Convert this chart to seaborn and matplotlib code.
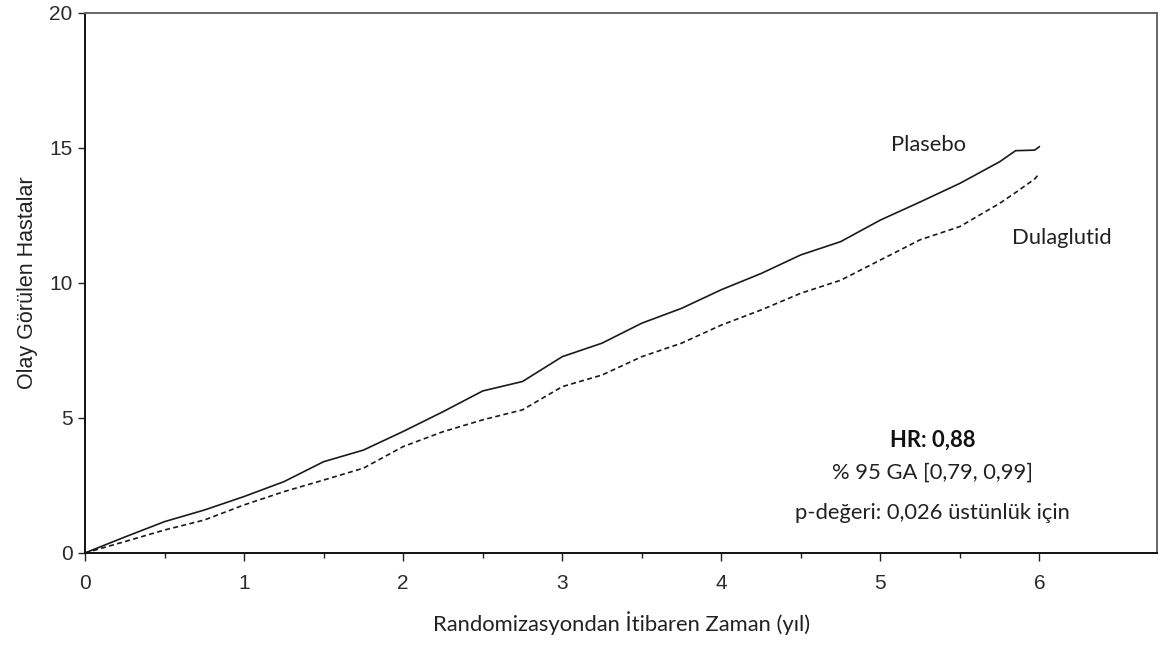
import numpy as np
import pandas as pd
import matplotlib
matplotlib.use("Agg")
import matplotlib.pyplot as plt
import matplotlib.ticker as ticker
import seaborn as sns

# values (cumulative % of patients with event)
years = [0, 0.25, 0.5, 0.75, 1.0, 1.25, 1.5, 1.75, 2.0, 2.25, 2.5, 2.75, 3.0,
         3.25, 3.5, 3.75, 4.0, 4.25, 4.5, 4.75, 5.0, 5.25, 5.5, 5.75, 5.85, 5.97, 6.0]
plasebo = [0, 0.59, 1.16, 1.59, 2.09, 2.64, 3.38, 3.81, 4.5, 5.23, 6.0, 6.35, 7.27,
           7.77, 8.51, 9.06, 9.75, 10.35, 11.04, 11.53, 12.33, 13.0, 13.69, 14.49,
           14.9, 14.92, 15.05]
dulaglutid = [0, 0.42, 0.85, 1.22, 1.78, 2.27, 2.7, 3.14, 3.94, 4.49, 4.93, 5.3, 6.16,
              6.59, 7.27, 7.77, 8.44, 9.0, 9.62, 10.1, 10.85, 11.6, 12.09, 12.95,
              13.35, 13.85, 14.06]

x_ticks = [0, 1, 2, 3, 4, 5, 6]
y_ticks = [0, 5, 10, 15, 20]

df = pd.DataFrame({
    "yil": years * 2,
    "oran": plasebo + dulaglutid,
    "grup": ["Plasebo"] * len(years) + ["Dulaglutid"] * len(years),
})

sns.set_style("white")
text_font = ["Lato", "DejaVu Sans"]
tick_font = ["Liberation Sans", "DejaVu Sans"]
plt.rcParams["font.family"] = tick_font
fs = 15.8

fig = plt.figure(figsize=(11.73, 6.49), dpi=100)
ax = fig.add_axes([0.0725, 0.148, 0.914, 0.832])

sns.lineplot(data=df, x="yil", y="oran", style="grup", color="#1a1a1a",
             dashes={"Plasebo": "", "Dulaglutid": (3, 2)}, linewidth=1.2,
             legend=False, ax=ax)

ax.set_xlim(0, 6.74)
ax.set_ylim(0, 20)
ax.xaxis.set_major_locator(ticker.FixedLocator(x_ticks))
ax.xaxis.set_minor_locator(ticker.FixedLocator([0.5, 1.5, 2.5, 3.5, 4.5, 5.5]))
ax.yaxis.set_major_locator(ticker.FixedLocator(y_ticks))
ax.tick_params(axis="x", which="major", direction="out", length=6, width=1,
               color="#222", pad=9, bottom=True, labelsize=15,
               labelcolor="#2b2b2b")
ax.tick_params(axis="x", which="minor", direction="out", length=3.5, width=1,
               color="#222", bottom=True)
ax.tick_params(axis="y", direction="out", length=5, width=1, color="#222",
               pad=4, left=True, labelsize=15, labelcolor="#2b2b2b")

for side in ["left", "bottom"]:
    ax.spines[side].set_color("#111")
    ax.spines[side].set_linewidth(1.4)
for side in ["top", "right"]:
    ax.spines[side].set_color("#666")
    ax.spines[side].set_linewidth(1.4)

ax.set_xlabel("Randomizasyondan İtibaren Zaman (yıl)", family=text_font,
              fontsize=fs, color="#222", labelpad=13)
ax.set_ylabel("Olay Görülen Hastalar", family=tick_font, fontsize=15.5,
              color="#222", labelpad=8)

ax.text(5.3, 15.1, "Plasebo", family=text_font, fontsize=fs, color="#222",
        ha="center", va="center")
ax.text(6.14, 11.67, "Dulaglutid", family=text_font, fontsize=fs, color="#222",
        ha="center", va="center")
ax.text(5.33, 4.19, "HR: 0,88", family=text_font, fontsize=fs, color="#111",
        fontweight="bold", ha="center", va="center")
ax.text(5.33, 2.96, "% 95 GA [0,79, 0,99]", family=text_font, fontsize=fs,
        color="#222", ha="center", va="center")
ax.text(5.33, 1.48, "p-değeri: 0,026 üstünlük için", family=text_font,
        fontsize=fs, color="#222", ha="center", va="center")

fig.savefig("out.png", dpi=100)
